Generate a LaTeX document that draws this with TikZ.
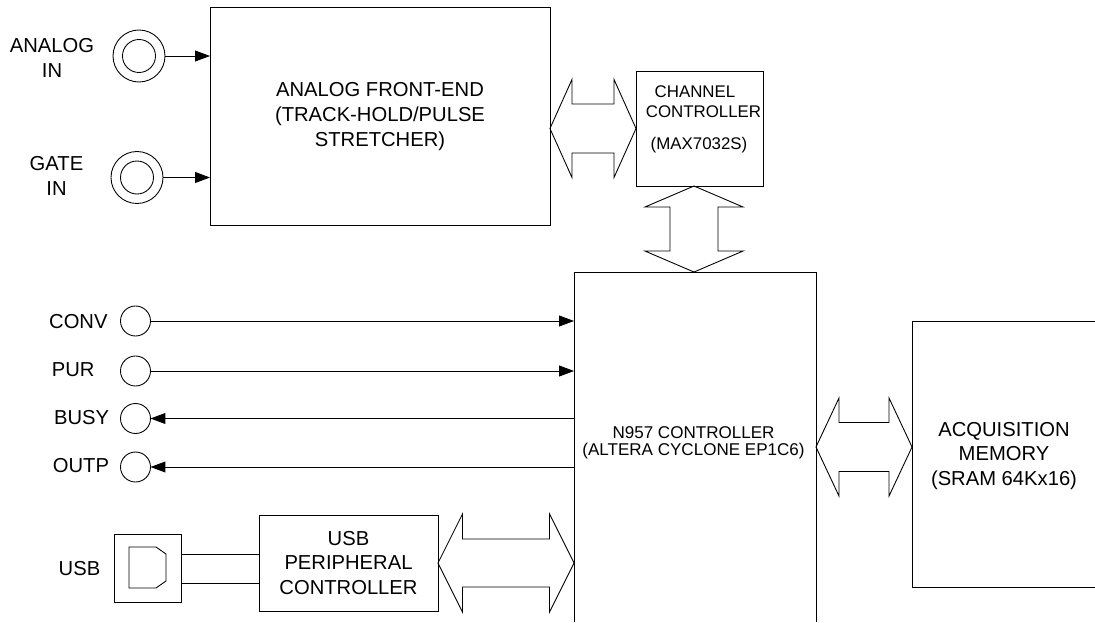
\documentclass[tikz,border=0pt]{standalone}
\usepackage{fontspec}
\setmainfont{Liberation Sans}
\usepackage{tikz}
\usetikzlibrary{arrows.meta}
\usetikzlibrary{calc}
\tikzset{>={Triangle[length=8.5pt,width=6.2pt]}}
\tikzset{
	bigtext/.style={font=\fontsize{11.5}{14.2}\selectfont,align=center,inner sep=0pt},
	smalltext/.style={font=\fontsize{9.6}{9.8}\selectfont,align=center,inner sep=0pt},
	ctrlfont/.style={font=\fontsize{9.7}{9.8}\selectfont,align=center,inner sep=0pt},
	block/.style={draw,rectangle,outer sep=0pt,inner sep=0pt,minimum width=#1},
	frame/.style={rectangle,outer sep=0pt,inner sep=0pt,minimum width=#1},
	jack/.style={draw,circle,outer sep=0pt,inner sep=0pt,minimum size=#1},
}
\newcommand{\hbus}[5]{% {from}{to}{head length}{head half}{shaft half}
	\draw ($(#1)$) -- ($(#1)+(#3,-#4)$) -- ($(#1)+(#3,-#5)$) -- ($(#2)+(-#3,-#5)$)
	-- ($(#2)+(-#3,-#4)$) -- ($(#2)$) -- ($(#2)+(-#3,#4)$) -- ($(#2)+(-#3,#5)$)
	-- ($(#1)+(#3,#5)$) -- ($(#1)+(#3,#4)$) -- cycle
}
\newcommand{\vbus}[5]{% {from}{to}{head length}{head half}{shaft half}
	\draw ($(#1)$) -- ($(#1)+(-#4,#3)$) -- ($(#1)+(-#5,#3)$) -- ($(#2)+(-#5,-#3)$)
	-- ($(#2)+(-#4,-#3)$) -- ($(#2)$) -- ($(#2)+(#4,-#3)$) -- ($(#2)+(#5,-#3)$)
	-- ($(#1)+(#5,#3)$) -- ($(#1)+(#4,#3)$) -- cycle
}

\begin{document}
\begin{tikzpicture}[x=0.02cm,y=-0.02cm,line width=0.5pt]
	\useasboundingbox (0,0) rectangle (1095,622);

	% blocks
	\node[block=6.8cm,minimum height=4.37cm,bigtext] (afe) at (380,116.5)
		{ANALOG FRONT-END\\(TRACK-HOLD/PULSE\\STRETCHER)};
	\node[block=2.54cm,minimum height=2.3cm] (chan) at (699.5,128.5) {};
	\node[block=3.58cm,minimum height=1.92cm,bigtext] (usbctl) at (348.5,563)
		{USB\\PERIPHERAL\\CONTROLLER};

	% these two run off the page
	\node[frame=4.84cm,minimum height=7cm] (ctrl) at (695,447) {};
	\node[frame=3.66cm,minimum height=5.32cm] (mem) at (1003.5,454) {};
	\draw (ctrl.south west) -- (ctrl.north west) -- (ctrl.north east) -- (ctrl.south east);
	\draw (mem.north east) -- (mem.north west) -- (mem.south west) -- (mem.south east);

	\node[smalltext] (chanA) at (695,92) {CHANNEL};
	\node[smalltext] (chanB) at (703.5,112) {CONTROLLER};
	\node[smalltext] (chanC) at (699,145) {(MAX7032S)};
	\node[ctrlfont] (ctrltext) at (693.5,443) {N957 CONTROLLER\\(ALTERA CYCLONE EP1C6)};
	\node[bigtext] (memtext) at (1004,456) {ACQUISITION\\MEMORY\\(SRAM 64Kx16)};

	% inputs
	\node[jack=1.04cm] (analog) at (139,56) {};
	\node[jack=0.66cm] (analogin) at (analog) {};
	\node[jack=1.04cm] (gate) at (137,177.5) {};
	\node[jack=0.66cm] (gatein) at (gate) {};
	\node[bigtext] (analoglab) at (52,58) {ANALOG\\IN};
	\node[bigtext] (gatelab) at (56.5,176) {GATE\\IN};

	\draw[->] (analog.east) -- (analog.east -| afe.west);
	\draw[->] (gate.east) -- (gate.east -| afe.west);

	% control lines
	\node[jack=0.6cm] (conv) at (135.5,321) {};
	\node[jack=0.6cm] (pur) at (135.5,371) {};
	\node[jack=0.6cm] (busy) at (135.5,418.5) {};
	\node[jack=0.6cm] (outp) at (135.5,467) {};
	\node[bigtext,anchor=east] (convlab) at (108,322) {CONV};
	\node[bigtext,anchor=east] (purlab) at (95,370) {PUR};
	\node[bigtext,anchor=east] (busylab) at (109.5,418) {BUSY};
	\node[bigtext,anchor=east] (outplab) at (109.5,466) {OUTP};

	\draw[->] (conv.east) -- (conv.east -| ctrl.west);
	\draw[->] (pur.east) -- (pur.east -| ctrl.west);
	\draw[<-] (busy.east) -- (busy.east -| ctrl.west);
	\draw[<-] (outp.east) -- (outp.east -| ctrl.west);

	% usb connector
	\node[block=1.34cm,minimum height=1.36cm] (usbport) at (147.5,568) {};
	\node[bigtext] (usblab) at (79.5,568.5) {USB};
	\draw ($(usbport)+(-18.5,-21)$) -- ($(usbport)+(8.5,-21)$) -- ($(usbport)+(18.5,-14)$)
		-- ($(usbport)+(18.5,13)$) -- ($(usbport)+(8.5,20)$) -- ($(usbport)+(-18.5,20)$) -- cycle;
	\coordinate (usbhi) at ($(usbport.east)+(0,-14)$);
	\coordinate (usblo) at ($(usbport.east)+(0,15)$);
	\draw (usbhi) -- (usbhi -| usbctl.west);
	\draw (usblo) -- (usblo -| usbctl.west);

	% busses
	\coordinate (chanbus) at ($(chan.south)+(-5.5,0)$);
	\hbus{afe.east |- chan.west}{chan.west}{22}{49}{24.5};
	\vbus{chanbus}{chanbus |- ctrl.north}{21}{49}{24};
	\hbus{ctrl.east |- 0,447}{mem.west |- 0,447}{23}{49}{24.5};
	\hbus{usbctl.east}{usbctl.east -| ctrl.west}{24.5}{49}{24};
\end{tikzpicture}
\end{document}
